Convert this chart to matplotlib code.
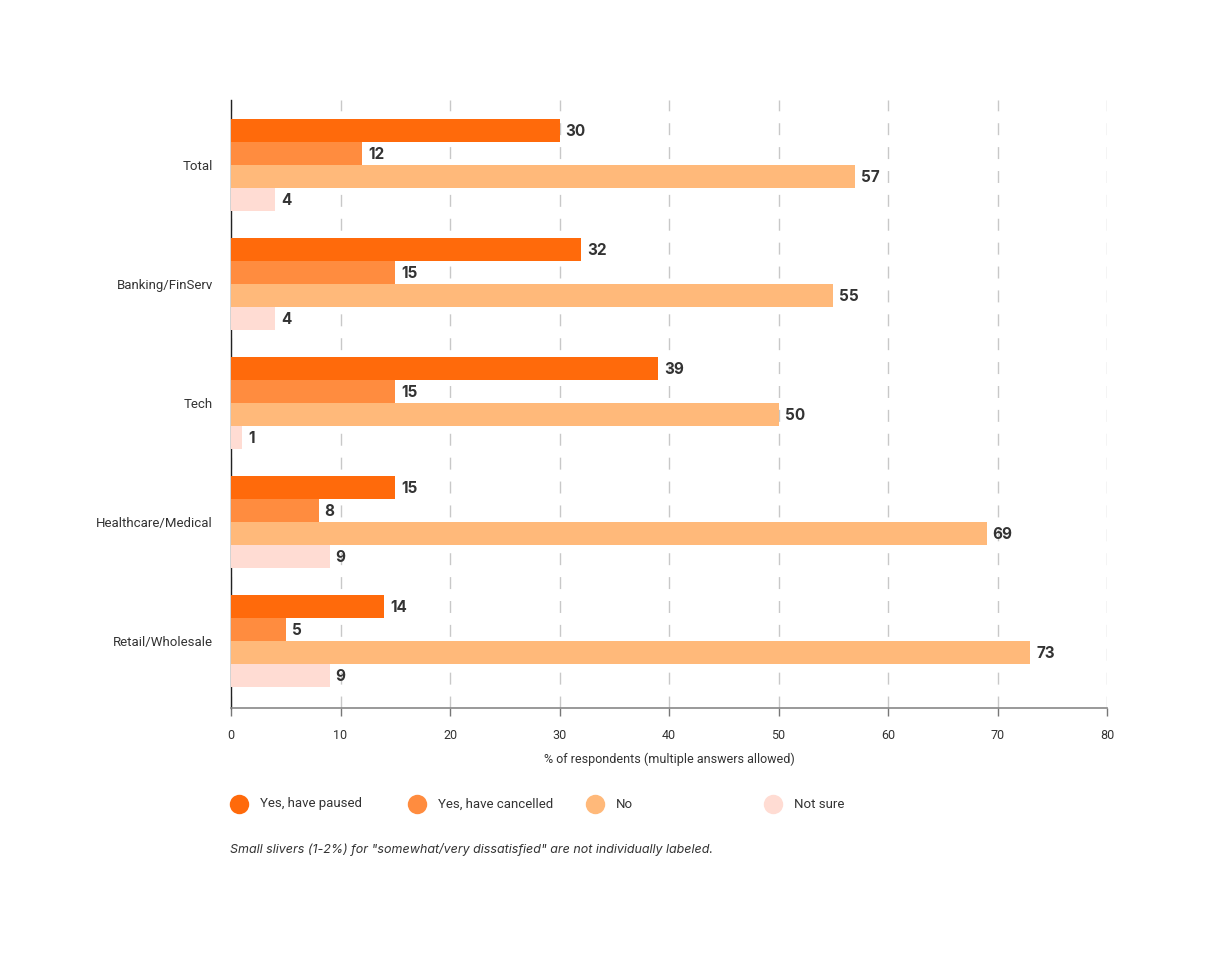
import matplotlib
matplotlib.use("Agg")
import matplotlib.pyplot as plt
import numpy as np
from matplotlib.lines import Line2D

plt.rcParams['font.family'] = ['Inter', 'DejaVu Sans']

categories = ["Total", "Banking/FinServ", "Tech", "Healthcare/Medical", "Retail/Wholesale"]
series_names = ["Yes, have paused", "Yes, have cancelled", "No", "Not sure"]
paused = [30, 32, 39, 15, 14]
cancelled = [12, 15, 15, 8, 5]
no = [57, 55, 50, 69, 73]
not_sure = [4, 4, 1, 9, 9]
colors = ["#FF6A0B", "#FF8C3F", "#FFB97A", "#FFDCD3"]
x_ticks = [0, 10, 20, 30, 40, 50, 60, 70, 80]
xlabel = "% of respondents (multiple answers allowed)"
footnote = 'Small slivers (1-2%) for "somewhat/very dissatisfied" are not individually labeled.'

series = [paused, cancelled, no, not_sure]
small_font = ['Roboto', 'DejaVu Sans']

fig = plt.figure(figsize=(12.09, 9.59), dpi=100)
W, H = 1209, 959
ax = fig.add_axes([231 / W, 1 - 708 / H, (1107 - 231) / W, (708 - 100) / H])

bar_h = 23 / 119
y = np.arange(len(categories))
for s_idx, (vals, col) in enumerate(zip(series, colors)):
    offs = (s_idx - 1.5) * bar_h
    bars = ax.barh(y + offs, vals, height=bar_h, color=col, linewidth=0, zorder=3)
    for b, v in zip(bars, vals):
        ax.text(b.get_width() + 0.55, b.get_y() + b.get_height() / 2 + 0.012, str(v),
                va='center', ha='left', fontsize=11, fontweight='bold',
                color='#333333', zorder=4)

ax.set_xlim(0, 80)
ax.set_ylim(4.563, -0.546)
ax.set_xticks(x_ticks)
ax.set_xticklabels([str(t) for t in x_ticks], family=small_font)
ax.set_yticks(y)
ax.set_yticklabels(categories, family=small_font)

ax.xaxis.grid(True, color='#c8c8c8', linewidth=1, linestyle=(0, (8.6, 8.6)), zorder=0)
ax.yaxis.grid(False)
ax.set_axisbelow(True)

for sp in ['top', 'right']:
    ax.spines[sp].set_visible(False)
ax.spines['left'].set_color('#222222')
ax.spines['left'].set_linewidth(1)
ax.spines['bottom'].set_color('#888888')
ax.spines['bottom'].set_linewidth(1.2)

ax.tick_params(axis='x', length=6, width=1, color='#777777', labelsize=9,
               labelcolor='#333333', pad=9)
ax.tick_params(axis='y', length=0, labelsize=9.5, labelcolor='#333333', pad=13)

ax.set_xlabel(xlabel, fontsize=9, color='#333333', labelpad=8, family=small_font)

# legend
leg_x0 = 239
leg_dx = 178
leg_y = 804
for i, (name, col) in enumerate(zip(series_names, colors)):
    cx = leg_x0 + i * leg_dx
    fig.add_artist(Line2D([cx / W], [1 - leg_y / H], marker='o', markersize=14,
                          color=col, markeredgewidth=0, linestyle='none',
                          transform=fig.transFigure))
    fig.text((cx + 21) / W, 1 - leg_y / H, name, fontsize=9.5, color='#333333',
             va='center', ha='left', family=small_font)

fig.text(230 / W, 1 - 850 / H, footnote, fontsize=9, style='italic',
         color='#333333', va='center', ha='left')

fig.savefig("out.png", dpi=100, facecolor='white')
